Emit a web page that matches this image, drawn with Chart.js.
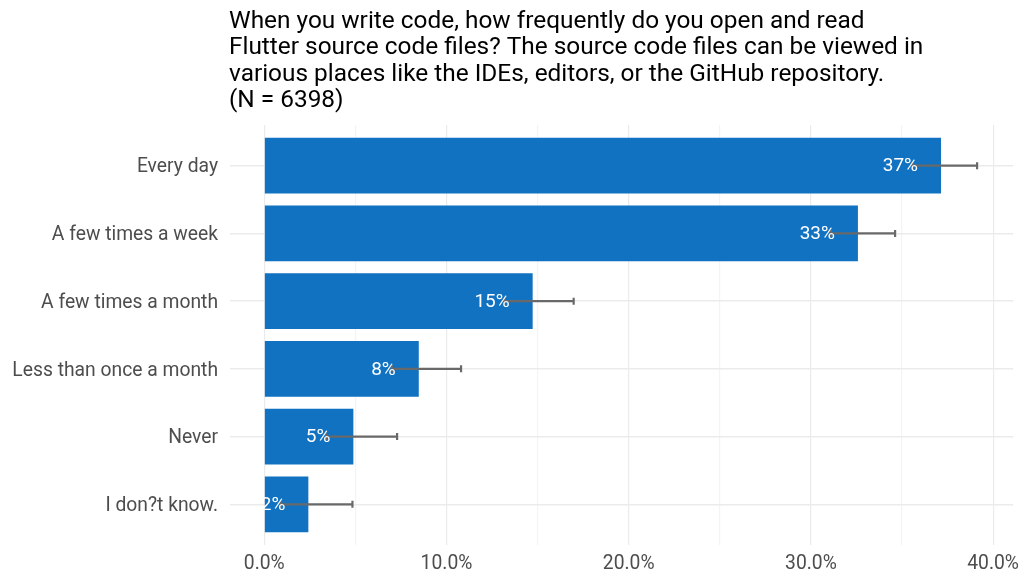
<!DOCTYPE html>
<html>
<head>
<meta charset="utf-8">
<script src="https://cdn.jsdelivr.net/npm/chart.js@4"></script>
<style>
  html, body { margin: 0; padding: 0; background: #fff; }
  #wrap { width: 1024px; height: 585px; }
</style>
</head>
<body>
<div id="wrap"><canvas id="chart" width="1024" height="585"></canvas></div>
<script>
// question text, one entry per line as in the original
const titleLines = [
  'When you write code, how frequently do you open and read',
  'Flutter source code files? The source code files can be viewed in',
  'various places like the IDEs, editors, or the GitHub repository.',
  '(N = 6398)'
];

const categories = [
  'Every day',
  'A few times a week',
  'A few times a month',
  'Less than once a month',
  'Never',
  'I don?t know.'
];

// share of respondents, in percent
const shares = [37.14, 32.58, 14.73, 8.48, 4.89, 2.42];
// confidence interval ends, in percent
const ciLow = [35.6, 31.1, 13.2, 7.0, 3.4, 0.9];
const ciHigh = [39.12, 34.62, 16.98, 10.8, 7.29, 4.84];

const xTicks = [0, 5, 10, 15, 20, 25, 30, 35, 40];

const font = 'Roboto';
const greyText = '#4d4d4d';

// draws the title block above the plot
const titlePlugin = {
  id: 'titleBlock',
  afterDraw(chart) {
    const ctx = chart.ctx;
    ctx.save();
    ctx.fillStyle = '#000';
    ctx.font = `24.4px ${font}`;
    ctx.textAlign = 'left';
    ctx.textBaseline = 'alphabetic';
    titleLines.forEach((line, i) => {
      ctx.fillText(line, 229, 28 + i * 26.3);
    });
    ctx.restore();
  }
};

// error bars and the value labels on top of them
const errorPlugin = {
  id: 'errorBars',
  afterDatasetsDraw(chart) {
    const ctx = chart.ctx;
    const x = chart.scales.x;
    const y = chart.scales.y;
    ctx.save();
    ctx.strokeStyle = '#696969';
    ctx.lineWidth = 2.2;
    categories.forEach((c, i) => {
      const yy = y.getPixelForValue(i);
      const x0 = x.getPixelForValue(ciLow[i]);
      const x1 = x.getPixelForValue(ciHigh[i]);
      ctx.beginPath();
      ctx.moveTo(x0, yy);
      ctx.lineTo(x1, yy);
      ctx.moveTo(x0, yy - 3.5);
      ctx.lineTo(x0, yy + 3.5);
      ctx.moveTo(x1, yy - 3.5);
      ctx.lineTo(x1, yy + 3.5);
      ctx.stroke();
    });
    ctx.fillStyle = '#fff';
    ctx.font = `19px ${font}`;
    ctx.textAlign = 'right';
    ctx.textBaseline = 'middle';
    categories.forEach((c, i) => {
      const yy = y.getPixelForValue(i);
      const xe = x.getPixelForValue(shares[i]);
      ctx.fillText(Math.round(shares[i]) + '%', xe - 23, yy + 1);
    });
    ctx.restore();
  }
};

new Chart(document.getElementById('chart'), {
  type: 'bar',
  data: {
    datasets: [{
      data: shares.map((v, i) => ({ x: v, y: i })),
      backgroundColor: '#1172c2',
      borderWidth: 0,
      barPercentage: 0.82,
      categoryPercentage: 1
    }]
  },
  options: {
    indexAxis: 'y',
    responsive: false,
    animation: false,
    devicePixelRatio: 1,
    layout: { padding: { top: 125, right: 11, left: 0, bottom: 0 } },
    plugins: {
      legend: { display: false },
      tooltip: { enabled: false }
    },
    scales: {
      x: {
        type: 'linear',
        min: -1.88,
        max: 41.09,
        afterBuildTicks(scale) {
          scale.ticks = xTicks.map(v => ({ value: v }));
        },
        afterFit(scale) {
          scale.height = 40;
          // let the last label hang over the edge instead of shrinking the plot
          scale.paddingLeft = 0;
          scale.paddingRight = 0;
        },
        border: { display: false },
        grid: {
          drawTicks: false,
          color: ctx => (ctx.tick && ctx.tick.value % 10 === 0) ? '#ebebeb' : '#f4f4f4',
          lineWidth: 1.2
        },
        ticks: {
          autoSkip: false,
          maxRotation: 0,
          padding: 8,
          color: greyText,
          font: { family: font, size: 19.3 },
          callback: v => (v % 10 === 0 ? v.toFixed(1) + '%' : '')
        }
      },
      y: {
        type: 'linear',
        reverse: true,
        offset: false,
        min: -0.6,
        max: 5.6,
        afterBuildTicks(scale) {
          scale.ticks = categories.map((c, i) => ({ value: i }));
        },
        afterFit(scale) { scale.width = 230; },
        border: { display: false },
        grid: {
          offset: false,
          drawTicks: false,
          color: '#ebebeb',
          lineWidth: 1.5
        },
        ticks: {
          autoSkip: false,
          padding: 12,
          labelOffset: 2,
          color: greyText,
          font: { family: font, size: 19.3 },
          callback: v => categories[v]
        }
      }
    }
  },
  plugins: [titlePlugin, errorPlugin]
});
</script>
</body>
</html>
